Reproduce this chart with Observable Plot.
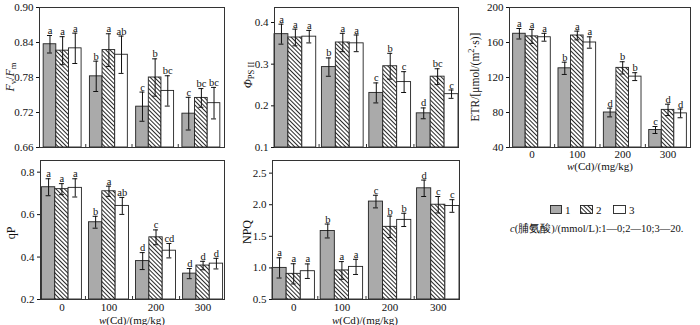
<!DOCTYPE html>
<html><head><meta charset="utf-8">
<script src="https://cdn.jsdelivr.net/npm/d3@7"></script>
<script src="https://cdn.jsdelivr.net/npm/@observablehq/plot@0.6"></script>
<style>
body{margin:0;background:#fff;}
#wrap{position:relative;width:700px;height:325px;overflow:hidden;font-family:"Liberation Serif","Times New Roman",serif;}
#wrap svg{position:absolute;}
</style></head><body>
<svg width="0" height="0" style="position:absolute">
<defs><pattern id="hatch" patternUnits="userSpaceOnUse" width="3" height="6" patternTransform="rotate(-45)"><rect width="3" height="6" fill="#fff"/><line x1="0.5" y1="0" x2="0.5" y2="6" stroke="#111" stroke-width="0.9"/></pattern></defs></svg>
<div id="wrap"></div>
<script>
const groups = ["0", "100", "200", "300"];
const series = ["1", "2", "3"];
// values ordered: group 0 (s1,s2,s3), group 100 (...), ...
const fvfmMean = [0.837, 0.826, 0.830, 0.782, 0.827, 0.819, 0.730, 0.780, 0.757, 0.718, 0.745, 0.736];
const fvfmErr  = [0.015, 0.024, 0.026, 0.026, 0.028, 0.032, 0.025, 0.032, 0.026, 0.028, 0.016, 0.027];
const fvfmSig  = ["a","a","a","b","a","ab","c","b","bc","c","bc","bc"];
const phiMean = [0.372, 0.364, 0.366, 0.293, 0.352, 0.350, 0.231, 0.295, 0.257, 0.182, 0.270, 0.228];
const phiErr  = [0.024, 0.020, 0.015, 0.022, 0.022, 0.020, 0.024, 0.031, 0.025, 0.013, 0.019, 0.010];
const phiSig  = ["a","a","a","b","a","a","c","b","c","d","bc","c"];
const etrMean = [170, 167, 166, 130.5, 168, 160, 80, 131, 121, 60, 83, 79];
const etrErr  = [6, 8, 4.5, 7, 5, 6.5, 5, 7, 4.5, 4, 6.5, 5];
const etrSig  = ["a","a","a","b","a","a","d","b","b","c","d","d"];
const qpMean = [0.729, 0.720, 0.726, 0.564, 0.710, 0.641, 0.381, 0.493, 0.430, 0.322, 0.360, 0.369];
const qpErr  = [0.040, 0.026, 0.043, 0.028, 0.024, 0.040, 0.040, 0.035, 0.034, 0.024, 0.020, 0.025];
const qpSig  = ["a","a","a","b","a","ab","d","c","cd","d","d","d"];
const npqMean = [1.00, 0.906, 0.948, 1.584, 0.96, 1.016, 2.05, 1.65, 1.76, 2.26, 2.00, 1.98];
const npqErr  = [0.16, 0.16, 0.115, 0.11, 0.14, 0.12, 0.10, 0.17, 0.105, 0.13, 0.13, 0.10];
const npqSig  = ["a","a","a","b","a","a","c","b","b","d","c","c"];
const fills = ["#aaaaaa", "url(#hatch)", "#ffffff"];
const FONT = "Liberation Serif, Times New Roman, serif";

function addLabel(svg, x, y, parts, rotate, size) {
  const t = d3.select(svg).append("text")
    .attr("text-anchor", "middle").attr("dominant-baseline", "central")
    .attr("font-size", size).attr("font-family", FONT).attr("fill", "#111");
  if (rotate) t.attr("transform", `translate(${x},${y}) rotate(-90)`);
  else t.attr("x", x).attr("y", y);
  let shift = 0;
  parts.forEach(p => {
    const ts = t.append("tspan").text(p.t);
    if (p.i) ts.attr("font-style", "italic");
    const want = p.sub ? 3 : p.sup ? -4 : 0;
    if (want !== shift) { ts.attr("dy", want - shift); shift = want; }
    if (p.sub || p.sup) ts.attr("font-size", size * 0.72);
  });
}

function panel(o) {
  const {left, top, width, height, mL, mR, mT, mB, domain, ticks, fmt, mean, err, sig, pi, po, showX, tickPad} = o;
  const W = width - mL - mR;
  const H = height - mT - mB;
  const n = groups.length;
  const step = W / (n - pi + 2 * po);
  const bw = step * (1 - pi);
  const sub = bw / 3;
  const rows = [];
  groups.forEach((g, i) => series.forEach((s, j) => {
    const k = i * 3 + j;
    rows.push({g, s, j, v: mean[k], e: err[k], sig: sig[k]});
  }));
  const marks = [];
  series.forEach((s, j) => {
    const d = rows.filter(r => r.j === j);
    const dx = (j - 1) * sub;
    marks.push(Plot.barY(d, {x: "g", y1: domain[0], y2: "v", fill: fills[j], stroke: "#222", strokeWidth: 0.9,
      insetLeft: j * sub, insetRight: (2 - j) * sub}));
    marks.push(Plot.ruleX(d, {x: "g", y1: r => r.v - r.e, y2: r => r.v + r.e, dx, stroke: "#111", strokeWidth: 1}));
    const capL = j * sub + sub / 2 - 2.5, capR = (2 - j) * sub + sub / 2 - 2.5;
    marks.push(Plot.tickY(d, {x: "g", y: r => r.v + r.e, insetLeft: capL, insetRight: capR, stroke: "#111", strokeWidth: 1}));
    marks.push(Plot.tickY(d, {x: "g", y: r => r.v - r.e, insetLeft: capL, insetRight: capR, stroke: "#111", strokeWidth: 1}));
    marks.push(Plot.text(d, {x: "g", y: r => r.v + r.e, text: "sig", dx, dy: -1.5, lineAnchor: "bottom",
      fontSize: 10.5, fontFamily: FONT, fill: "#111"}));
  });
  const tickH = (domain[1] - domain[0]) * 3 / H;
  marks.push(Plot.ruleX(groups.slice(0, 3), {x: d => d, dx: step / 2, y1: domain[0], y2: domain[0] + tickH, stroke: "#333"}));
  marks.push(Plot.frame({stroke: "#333", strokeWidth: 1}));
  const svg = Plot.plot({
    width, height, marginLeft: mL, marginRight: mR, marginTop: mT, marginBottom: mB,
    style: {fontFamily: FONT, fontSize: "11px", background: "transparent", color: "#111", overflow: "visible"},
    x: {domain: groups, paddingInner: pi, paddingOuter: po, round: false, axis: showX ? "bottom" : null,
        tickSize: 0, tickPadding: tickPad || 4, label: null},
    y: {domain, ticks, tickFormat: fmt, tickSize: 3, tickPadding: 3, label: null},
    marks
  });
  svg.style.left = left + "px";
  svg.style.top = top + "px";
  document.getElementById("wrap").appendChild(svg);
  return svg;
}

const p1 = panel({left: 0, top: 0, width: 232, height: 160, mL: 39, mR: 8, mT: 7, mB: 13,
  domain: [0.66, 0.90], ticks: [0.66, 0.72, 0.78, 0.84, 0.90], fmt: d3.format(".2f"),
  mean: fvfmMean, err: fvfmErr, sig: fvfmSig, pi: 0.18, po: 0.09, showX: false});
addLabel(p1, 10, 77, [{t: "F", i: true}, {t: "v", sub: true}, {t: "/"}, {t: "F", i: true}, {t: "m", sub: true}], true, 12);

const p2 = panel({left: 232, top: 0, width: 232, height: 160, mL: 42, mR: 6, mT: 7, mB: 13,
  domain: [0.1, 0.436], ticks: [0.1, 0.2, 0.3, 0.4], fmt: d3.format(".1f"),
  mean: phiMean, err: phiErr, sig: phiSig, pi: 0.12, po: 0.0, showX: false});
addLabel(p2, 16, 75, [{t: "Φ", i: true}, {t: "PS II", sub: true}], true, 12);

const p3 = panel({left: 464, top: 0, width: 236, height: 175, mL: 45, mR: 10, mT: 7, mB: 28,
  domain: [40, 200], ticks: [40, 80, 120, 160, 200], fmt: d3.format("d"),
  mean: etrMean, err: etrErr, sig: etrSig, pi: 0.17, po: 0.08, showX: true, tickPad: 3});
addLabel(p3, 11, 77, [{t: "ETR/[μmol/(m"}, {t: "2", sup: true}, {t: "·s)]"}], true, 11.5);
addLabel(p3, 136, 166, [{t: "w", i: true}, {t: "(Cd)/(mg/kg)"}], false, 11);

const p4 = panel({left: 0, top: 155, width: 232, height: 170, mL: 40, mR: 8, mT: 5, mB: 26,
  domain: [0.2, 0.855], ticks: [0.2, 0.4, 0.6, 0.8], fmt: d3.format(".1f"),
  mean: qpMean, err: qpErr, sig: qpSig, pi: 0.15, po: 0.03, showX: true, tickPad: 4});
addLabel(p4, 11, 78, [{t: "qP"}], true, 12);
addLabel(p4, 132, 165, [{t: "w", i: true}, {t: "(Cd)/(mg/kg)"}], false, 11);

const p5 = panel({left: 232, top: 155, width: 232, height: 170, mL: 40, mR: 5, mT: 5, mB: 26,
  domain: [0.5, 2.7], ticks: [0.5, 1.0, 1.5, 2.0, 2.5], fmt: d3.format(".1f"),
  mean: npqMean, err: npqErr, sig: npqSig, pi: 0.12, po: 0.0, showX: true, tickPad: 4});
addLabel(p5, 15, 77, [{t: "NPQ"}], true, 12);
addLabel(p5, 133, 165, [{t: "w", i: true}, {t: "(Cd)/(mg/kg)"}], false, 11);

// legend
const leg = d3.select("#wrap").append("svg").attr("width", 200).attr("height", 45)
  .style("left", "500px").style("top", "195px");
series.forEach((s, j) => {
  const bx = [50, 80, 113][j];
  leg.append("rect").attr("x", bx + 0.5).attr("y", 10.5).attr("width", j === 0 ? 11 : 12).attr("height", 8)
    .attr("fill", fills[j]).attr("stroke", "#222").attr("stroke-width", 0.9);
  leg.append("text").attr("x", bx + (j === 0 ? 15 : 16)).attr("y", 14.5).attr("dominant-baseline", "central")
    .attr("font-size", 11).attr("font-family", FONT).attr("fill", "#111").text(s);
});
const cap = leg.append("text").attr("x", 10).attr("y", 33).attr("dominant-baseline", "central")
  .attr("font-size", 10.5).attr("font-family", FONT).attr("fill", "#111");
cap.append("tspan").attr("font-style", "italic").text("c");
cap.append("tspan").text("(脯氨酸)/(mmol/L):1—0;2—10;3—20.");
</script>
</body></html>
